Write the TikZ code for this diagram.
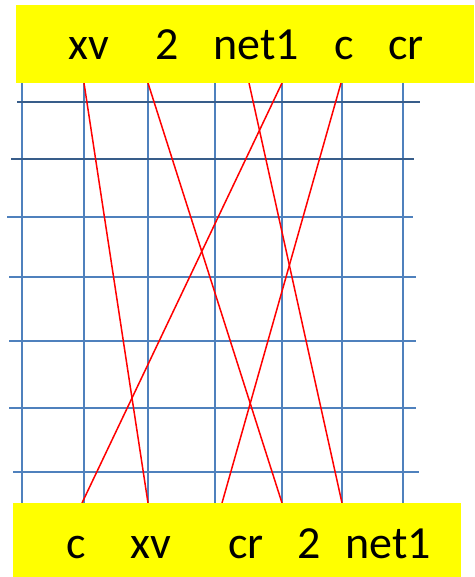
\documentclass[tikz,border=0pt]{standalone}
\usepackage{fontspec}
\setmainfont{Carlito}
\definecolor{gridblue}{HTML}{4F81BD}
\definecolor{griddark}{HTML}{385D8A}
\definecolor{hilite}{HTML}{FFFF00}
\begin{document}
\begin{tikzpicture}[x=1pt,y=-1pt,
  gridline/.style={gridblue,line width=2pt},
  darkline/.style={griddark,line width=2pt},
  wire/.style={red,line width=1.5pt},
  band/.style={fill=hilite,draw=none},
  lbl/.style={anchor=base,inner sep=0pt,font=\fontsize{46}{55}\selectfont}]
\useasboundingbox (0,0) rectangle (474,577);
% vertical grid lines
\foreach \x in {22,84,148,215,282,342,403}
  \draw[gridline] (\x,83) -- (\x,503);
% horizontal grid lines
\draw[darkline] (17,102) -- (420,102);
\draw[darkline] (11,159) -- (414,159);
\draw[gridline] (7,217) -- (413,217);
\draw[gridline] (9,277) -- (416,277);
\draw[gridline] (9,341) -- (416,341);
\draw[gridline] (9,408) -- (416,408);
\draw[gridline] (13,472) -- (419,472);
% wire endpoints
\coordinate (txv) at (84,83);
\coordinate (t2) at (148,83);
\coordinate (tnet) at (249,83);
\coordinate (tc) at (282,83);
\coordinate (tcr) at (341,83);
\coordinate (bc) at (82,503);
\coordinate (bxv) at (148,503);
\coordinate (bcr) at (222,503);
\coordinate (b2) at (282,503);
\coordinate (bnet) at (342,503);
\draw[wire] (txv) -- (bxv);
\draw[wire] (t2) -- (b2);
\draw[wire] (tnet) -- (bnet);
\draw[wire] (tc) -- (bc);
\draw[wire] (tcr) -- (bcr);
% yellow bands
\fill[band] (16,5) rectangle (474,83);
\fill[band] (13,503) rectangle (461,577);
% labels
\node[lbl] (Lxv) at (89,60) {xv};
\node[lbl] (L2) at (167,60) {2};
\node[lbl] (Lnet) at (256,60) {net1};
\node[lbl] (Lc) at (344,60) {c};
\node[lbl] (Lcr) at (406,60) {cr};
\node[lbl] (Bc) at (76,558) {c};
\node[lbl] (Bxv) at (151,558) {xv};
\node[lbl] (Bcr) at (246,558) {cr};
\node[lbl] (B2) at (309,558) {2};
\node[lbl] (Bnet) at (388,558) {net1};
\end{tikzpicture}
\end{document}
